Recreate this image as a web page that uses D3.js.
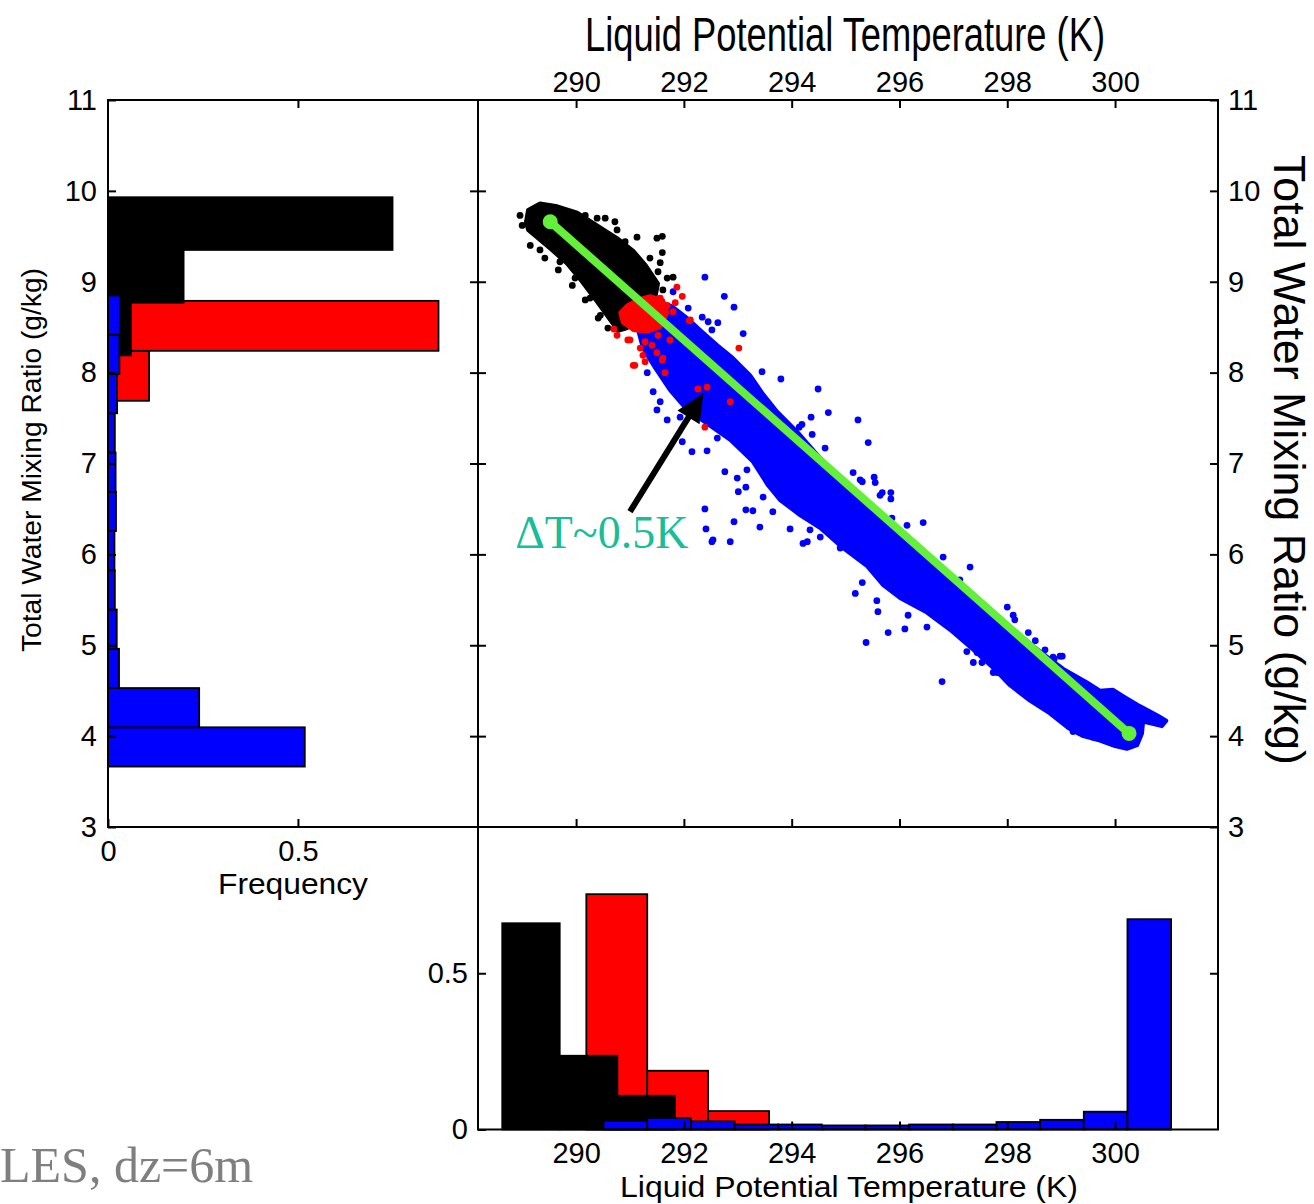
<!DOCTYPE html>
<html>
<head>
<meta charset="utf-8">
<script src="https://cdn.jsdelivr.net/npm/d3@7"></script>
<style>
  html, body { margin: 0; padding: 0; background: #fff; }
  svg { display: block; }
</style>
</head>
<body>
<svg id="chart" width="1314" height="1204"></svg>
<script>
// ---------------- data ----------------
const thetaTicks = [290, 292, 294, 296, 298, 300];
const qTicks = [3, 4, 5, 6, 7, 8, 9, 10, 11];
const freqTicks = [0, 0.5];

// Frequency histograms of total water mixing ratio (g/kg): lower bin edges, bin width, frequency
const qBinsBlack = [8.19, 8.77, 9.35];
const qWidthBlack = 0.58;
const qFreqBlack = [0.06, 0.199, 0.749];
const qBinsRed = [7.69, 8.24];
const qWidthRed = 0.55;
const qFreqRed = [0.108, 0.87];
const qBinsBlue = [3.665, 4.097, 4.529, 4.961, 5.393, 5.825, 6.257, 6.689, 7.121, 7.553, 7.985, 8.417];
const qWidthBlue = 0.432;
const qFreqBlue = [0.518, 0.24, 0.029, 0.023, 0.018, 0.017, 0.021, 0.020, 0.018, 0.024, 0.030, 0.032];

// Frequency histograms of liquid potential temperature (K)
const thBinsBlack = [288.63, 289.70, 290.77];
const thWidthBlack = 1.066;
const thFreqBlack = [0.66, 0.236, 0.108];
const thBinsRed = [290.19, 291.32, 292.45];
const thWidthRed = 1.13;
const thFreqRed = [0.753, 0.188, 0.059];
const thBinsBlue = [290.51, 291.32, 292.13, 292.94, 293.75, 294.56, 295.37, 296.18, 296.99, 297.80, 298.61, 299.42, 300.23];
const thWidthBlue = 0.81;
const thFreqBlue = [0.028, 0.037, 0.026, 0.016, 0.016, 0.013, 0.013, 0.016, 0.016, 0.024, 0.031, 0.057, 0.673];

// Scatter: dense cores as outlines [theta, q], plus the individual points around them
const blackCore = [[289.07,9.66],[289.11,9.79],[289.33,9.86],[289.65,9.83],[290.02,9.76],[290.39,9.62],[290.76,9.48],[291.06,9.34],[291.28,9.19],[291.52,8.98],[291.47,8.83],[291.28,8.74],[291.09,8.63],[290.95,8.49],[290.78,8.46],[290.63,8.58],[290.39,8.78],[290.11,9.00],[289.83,9.20],[289.55,9.35],[289.33,9.46],[289.11,9.57]];
const blackDots = [[290.17,9.73],[290.39,9.70],[290.72,9.66],[290.76,9.57],[291.13,9.49],[291.50,9.48],[291.60,9.50],[290.91,9.44],[291.60,9.32],[291.37,9.26],[291.56,9.21],[291.52,9.11],[291.69,9.04],[291.80,9.05],[291.61,8.91],[291.32,9.10],[291.43,9.02],[290.54,9.70],[289.48,9.83],[288.96,9.73],[289.00,9.62],[289.33,9.35],[289.70,9.22],[289.98,9.04],[290.26,8.82],[290.45,8.63],[289.15,9.40],[289.42,9.26],[289.67,9.13],[289.93,8.96],[290.17,8.80],[290.41,8.60],[290.59,8.49]];

const redCore = [[290.82,8.66],[290.95,8.74],[291.13,8.80],[291.37,8.84],[291.61,8.80],[291.69,8.66],[291.56,8.50],[291.32,8.45],[291.06,8.47],[290.87,8.55]];
const redDots = [[290.76,8.41],[290.96,8.36],[291.19,8.27],[291.24,8.19],[291.50,8.22],[291.61,8.16],[291.09,8.08],[291.28,8.12],[291.65,8.00],[291.74,8.36],[291.97,8.84],[291.84,8.77],[292.12,8.58],[291.56,8.82],[291.69,8.74],[291.80,8.67],[292.26,7.82],[292.43,7.84],[292.86,7.68],[292.39,7.40],[293.02,8.27],[292.10,8.57],[291.00,8.36],[291.06,8.08],[291.60,8.14],[291.41,8.30],[290.70,8.48],[291.87,8.94],[291.28,8.34],[291.52,8.41]];

const blueCore = [[291.34,8.71],[291.56,8.77],[291.78,8.73],[292.06,8.60],[292.30,8.47],[292.62,8.30],[292.91,8.16],[293.23,7.97],[293.45,7.78],[293.73,7.57],[294.10,7.35],[294.53,7.06],[294.90,6.85],[295.27,6.65],[295.58,6.45],[295.96,6.27],[296.33,6.07],[296.70,5.87],[297.07,5.69],[297.44,5.50],[297.81,5.31],[298.18,5.14],[298.61,4.93],[299.04,4.74],[299.48,4.59],[299.72,4.50],[299.96,4.51],[300.15,4.44],[300.46,4.33],[300.78,4.23],[300.95,4.17],
  [300.87,4.11],[300.52,4.16],[300.50,4.03],[300.41,3.90],[300.22,3.86],[300.00,3.89],[299.72,3.95],[299.41,4.00],[299.13,4.09],[298.79,4.25],[298.42,4.39],[298.05,4.56],[297.74,4.75],[297.37,4.95],[296.94,5.17],[296.51,5.36],[296.01,5.52],[295.70,5.66],[295.40,5.87],[294.95,6.07],[294.53,6.29],[294.16,6.43],[293.78,6.60],[293.56,6.76],[293.28,7.02],[292.86,7.26],[292.43,7.44],[292.06,7.59],[291.74,7.81],[291.47,8.05],[291.24,8.27],[291.15,8.47]];
const blueDots = [[292.39,9.05],[292.75,8.84],[292.93,8.72],[293.10,8.43],[291.80,8.89],[292.08,8.71],[292.34,8.61],[292.45,8.56],[292.63,8.55],[292.52,8.47],[291.32,8.00],[291.43,7.79],[291.56,7.68],[291.69,7.48],[291.93,7.51],[291.50,7.59],[293.45,8.01],[293.80,7.93],[294.49,7.82],[294.68,7.56],[295.23,7.48],[295.42,7.23],[294.38,7.32],[294.19,7.43],[294.36,7.51],[294.14,7.40],[291.97,7.24],[292.15,7.13],[292.43,7.14],[292.62,7.28],[292.76,6.91],[292.99,6.84],[293.17,6.93],[293.01,6.69],[293.15,6.74],[292.39,6.50],[292.41,6.28],[292.93,6.36],[293.15,6.49],[293.41,6.30],[293.97,6.28],[292.52,6.14],[292.86,6.14],[293.65,6.47],[293.82,6.68],[293.47,6.63],[294.29,6.14],[294.53,6.19],[294.21,6.12],[295.38,5.03],[295.18,5.57],[295.58,5.49],[295.60,5.37],[295.79,5.14],[296.10,5.18],[296.51,5.20],[296.79,4.60],[296.44,6.35],[296.81,5.97],[297.31,5.86],[298.00,5.42],[298.11,5.33],[298.39,5.14],[298.52,5.05],[298.70,4.95],[298.85,4.87],[298.98,4.88],[296.14,6.32],[295.86,6.40],[295.53,6.85],[295.84,6.68],[295.64,6.65],[295.14,6.90],[295.27,6.82],[297.25,4.93],[297.44,4.92],[297.74,4.70],[297.37,4.81],[299.22,4.05],[299.35,4.04],[299.59,3.99],[294.62,7.17],[295.31,6.80],[295.55,6.79],[295.68,6.68],[295.84,6.61],[297.12,5.72],[298.14,5.28],[294.34,6.27],[294.90,6.07],[295.31,5.69],[296.16,5.33],[296.35,5.47],[297.53,4.81],[297.81,4.70],[299.02,4.88],[298.87,4.85],[299.67,4.48],[293.28,6.48],[292.54,6.16],[299.81,3.97]];

// Straight mixing line between the two end members
const mixLine = [[289.52, 9.66], [300.26, 4.03]];

// Annotation arrow (tail, tip) and its label position
const arrowTail = [291.00, 6.47];
const arrowTip = [292.36, 7.77];
const deltaLabelAt = [288.87, 6.07];
const deltaLabel = "ΔT~0.5K";
const caseLabel = "LES, dz=6m";

// ---------------- layout ----------------
const svg = d3.select("#chart");
const PX0 = 478, PX1 = 1218, PY0 = 100, PY1 = 827; // scatter panel
const LX0 = 108;                                    // left histogram panel
const BY1 = 1129.5;                                 // bottom histogram baseline
const FONT = "'Liberation Sans', Arial, Helvetica, sans-serif";
const SERIF = "'Liberation Serif', 'Times New Roman', serif";

const xT = d3.scaleLinear().domain([288.18, 301.91]).range([PX0, PX1]);
const yQ = d3.scaleLinear().domain([3, 11]).range([PY1, PY0]);
const xF = d3.scaleLinear().domain([0, 0.974]).range([LX0, PX0]);
const yF = d3.scaleLinear().domain([0, 0.968]).range([BY1, PY1]);

const COLORS = { black: "#000000", red: "#ff0000", blue: "#0000ff" };

// ---------------- left histogram (horizontal bars) ----------------
const gLeft = svg.append("g");
function hbars(bins, width, freq, color) {
  gLeft.selectAll(null).data(bins.map((b, i) => ({ b, f: freq[i] }))).enter()
    .append("rect")
    .attr("x", xF(0))
    .attr("y", d => yQ(d.b + width))
    .attr("width", d => xF(d.f) - xF(0))
    .attr("height", d => yQ(d.b) - yQ(d.b + width))
    .attr("fill", color).attr("stroke", "#000").attr("stroke-width", 1.8);
}
hbars(qBinsRed, qWidthRed, qFreqRed, COLORS.red);
hbars(qBinsBlack, qWidthBlack, qFreqBlack, COLORS.black);
hbars(qBinsBlue, qWidthBlue, qFreqBlue, COLORS.blue);

// ---------------- bottom histogram (vertical bars) ----------------
const gBottom = svg.append("g");
function vbars(bins, width, freq, color) {
  gBottom.selectAll(null).data(bins.map((b, i) => ({ b, f: freq[i] }))).enter()
    .append("rect")
    .attr("x", d => xT(d.b))
    .attr("y", d => yF(d.f))
    .attr("width", d => xT(d.b + width) - xT(d.b))
    .attr("height", d => yF(0) - yF(d.f))
    .attr("fill", color).attr("stroke", "#000").attr("stroke-width", 1.8);
}
vbars(thBinsRed, thWidthRed, thFreqRed, COLORS.red);
vbars(thBinsBlack, thWidthBlack, thFreqBlack, COLORS.black);
vbars(thBinsBlue, thWidthBlue, thFreqBlue, COLORS.blue);

// ---------------- scatter ----------------
svg.append("clipPath").attr("id", "scatterClip")
  .append("rect").attr("x", PX0).attr("y", PY0).attr("width", PX1 - PX0).attr("height", PY1 - PY0);
const gSc = svg.append("g").attr("clip-path", "url(#scatterClip)");
const lineGen = d3.line().x(d => xT(d[0])).y(d => yQ(d[1])).curve(d3.curveLinearClosed);

function cluster(core, dots, color) {
  gSc.append("path").attr("d", lineGen(core))
    .attr("fill", color).attr("stroke", color).attr("stroke-width", 4).attr("stroke-linejoin", "round");
  gSc.selectAll(null).data(dots).enter().append("circle")
    .attr("cx", d => xT(d[0])).attr("cy", d => yQ(d[1])).attr("r", 3.4).attr("fill", color);
}
cluster(blueCore, blueDots, COLORS.blue);
cluster(blackCore, blackDots, COLORS.black);
cluster(redCore, redDots, COLORS.red);

// Mixing line with end markers
const GREEN = "#64f03a";
gSc.append("line")
  .attr("x1", xT(mixLine[0][0])).attr("y1", yQ(mixLine[0][1]))
  .attr("x2", xT(mixLine[1][0])).attr("y2", yQ(mixLine[1][1]))
  .attr("stroke", GREEN).attr("stroke-width", 8);
gSc.selectAll(null).data(mixLine).enter().append("circle")
  .attr("cx", d => xT(d[0])).attr("cy", d => yQ(d[1])).attr("r", 7.5).attr("fill", GREEN);

// Annotation arrow
(function () {
  const x1 = xT(arrowTail[0]), y1 = yQ(arrowTail[1]);
  const x2 = xT(arrowTip[0]), y2 = yQ(arrowTip[1]);
  const len = Math.hypot(x2 - x1, y2 - y1);
  const ux = (x2 - x1) / len, uy = (y2 - y1) / len;
  const headL = 28, headW = 13;
  const bx = x2 - ux * headL, by = y2 - uy * headL;
  svg.append("line").attr("x1", x1).attr("y1", y1).attr("x2", bx + ux * 2).attr("y2", by + uy * 2)
    .attr("stroke", "#000").attr("stroke-width", 6);
  svg.append("path")
    .attr("d", `M${x2},${y2}L${bx - uy * headW},${by + ux * headW}L${bx + uy * headW},${by - ux * headW}Z`)
    .attr("fill", "#000");
})();
svg.append("text")
  .attr("x", xT(deltaLabelAt[0])).attr("y", yQ(deltaLabelAt[1]))
  .attr("font-family", SERIF).attr("font-size", 46).attr("fill", "#19bd98")
  .text(deltaLabel);

// ---------------- frames ----------------
function frame(x0, y0, x1, y1) {
  svg.append("rect").attr("x", x0).attr("y", y0).attr("width", x1 - x0).attr("height", y1 - y0)
    .attr("fill", "none").attr("stroke", "#000").attr("stroke-width", 2);
}
frame(LX0, PY0, PX0, PY1);
frame(PX0, PY0, PX1, PY1);
frame(PX0, PY1, PX1, BY1);

// ---------------- axes ----------------
const TICK = -8;
function styleAxis(g) {
  g.select(".domain").remove();
  g.selectAll(".tick line").attr("stroke", "#000").attr("stroke-width", 2);
  g.selectAll(".tick text").attr("font-family", FONT).attr("font-size", 29).attr("fill", "#000");
}
const fmtFreq = d => (d === 0 ? "0" : d3.format(".1f")(d));

// left histogram panel
svg.append("g").attr("transform", `translate(${LX0},0)`)
  .call(d3.axisLeft(yQ).tickValues(qTicks).tickSize(TICK).tickPadding(11).tickFormat(d3.format("d"))).call(styleAxis);
svg.append("g").attr("transform", `translate(${PX0},0)`)
  .call(d3.axisRight(yQ).tickValues(qTicks.slice(1, -1)).tickSize(TICK).tickFormat("")).call(styleAxis);
svg.append("g").attr("transform", `translate(0,${PY0})`)
  .call(d3.axisTop(xF).tickValues([0.5]).tickSize(TICK).tickFormat("")).call(styleAxis);
svg.append("g").attr("transform", `translate(0,${PY1})`)
  .call(d3.axisBottom(xF).tickValues(freqTicks).tickSize(TICK).tickPadding(13).tickFormat(fmtFreq)).call(styleAxis);

// scatter panel
svg.append("g").attr("transform", `translate(0,${PY0})`)
  .call(d3.axisTop(xT).tickValues(thetaTicks).tickSize(TICK).tickPadding(8).tickFormat(d3.format("d"))).call(styleAxis);
svg.append("g").attr("transform", `translate(0,${PY1})`)
  .call(d3.axisBottom(xT).tickValues(thetaTicks).tickSize(TICK).tickFormat("")).call(styleAxis);
svg.append("g").attr("transform", `translate(${PX0},0)`)
  .call(d3.axisLeft(yQ).tickValues(qTicks.slice(1, -1)).tickSize(TICK).tickFormat("")).call(styleAxis);
svg.append("g").attr("transform", `translate(${PX1},0)`)
  .call(d3.axisRight(yQ).tickValues(qTicks).tickSize(TICK).tickPadding(10).tickFormat(d3.format("d"))).call(styleAxis);

// bottom histogram panel
svg.append("g").attr("transform", `translate(${PX0},0)`)
  .call(d3.axisLeft(yF).tickValues(freqTicks).tickSize(TICK).tickPadding(10).tickFormat(fmtFreq)).call(styleAxis);
svg.append("g").attr("transform", `translate(${PX1},0)`)
  .call(d3.axisRight(yF).tickValues([0.5]).tickSize(TICK).tickFormat("")).call(styleAxis);
svg.append("g").attr("transform", `translate(0,${BY1})`)
  .call(d3.axisBottom(xT).tickValues(thetaTicks).tickSize(TICK).tickPadding(13).tickFormat(d3.format("d"))).call(styleAxis);

// ---------------- titles ----------------
function label(text, x, y, size, len, rot) {
  const t = svg.append("text")
    .attr("transform", `translate(${x},${y})` + (rot ? ` rotate(${rot})` : ""))
    .attr("text-anchor", "middle").attr("font-family", FONT).attr("font-size", size).attr("fill", "#000")
    .text(text);
  if (len) t.attr("textLength", len).attr("lengthAdjust", "spacingAndGlyphs");
  return t;
}
label("Liquid Potential Temperature (K)", 845, 51, 48, 520);
label("Total Water Mixing Ratio (g/kg)", 1274, 460, 44, 610, 90);
label("Total Water Mixing Ratio (g/kg)", 41, 460, 27, 384, -90);
label("Frequency", 293, 894, 29, 150);
label("Liquid Potential Temperature (K)", 849, 1197, 29, 458);

svg.append("text").attr("x", 0).attr("y", 1182)
  .attr("font-family", SERIF).attr("font-size", 50).attr("fill", "#7f7f7f")
  .text(caseLabel);
</script>
</body>
</html>
